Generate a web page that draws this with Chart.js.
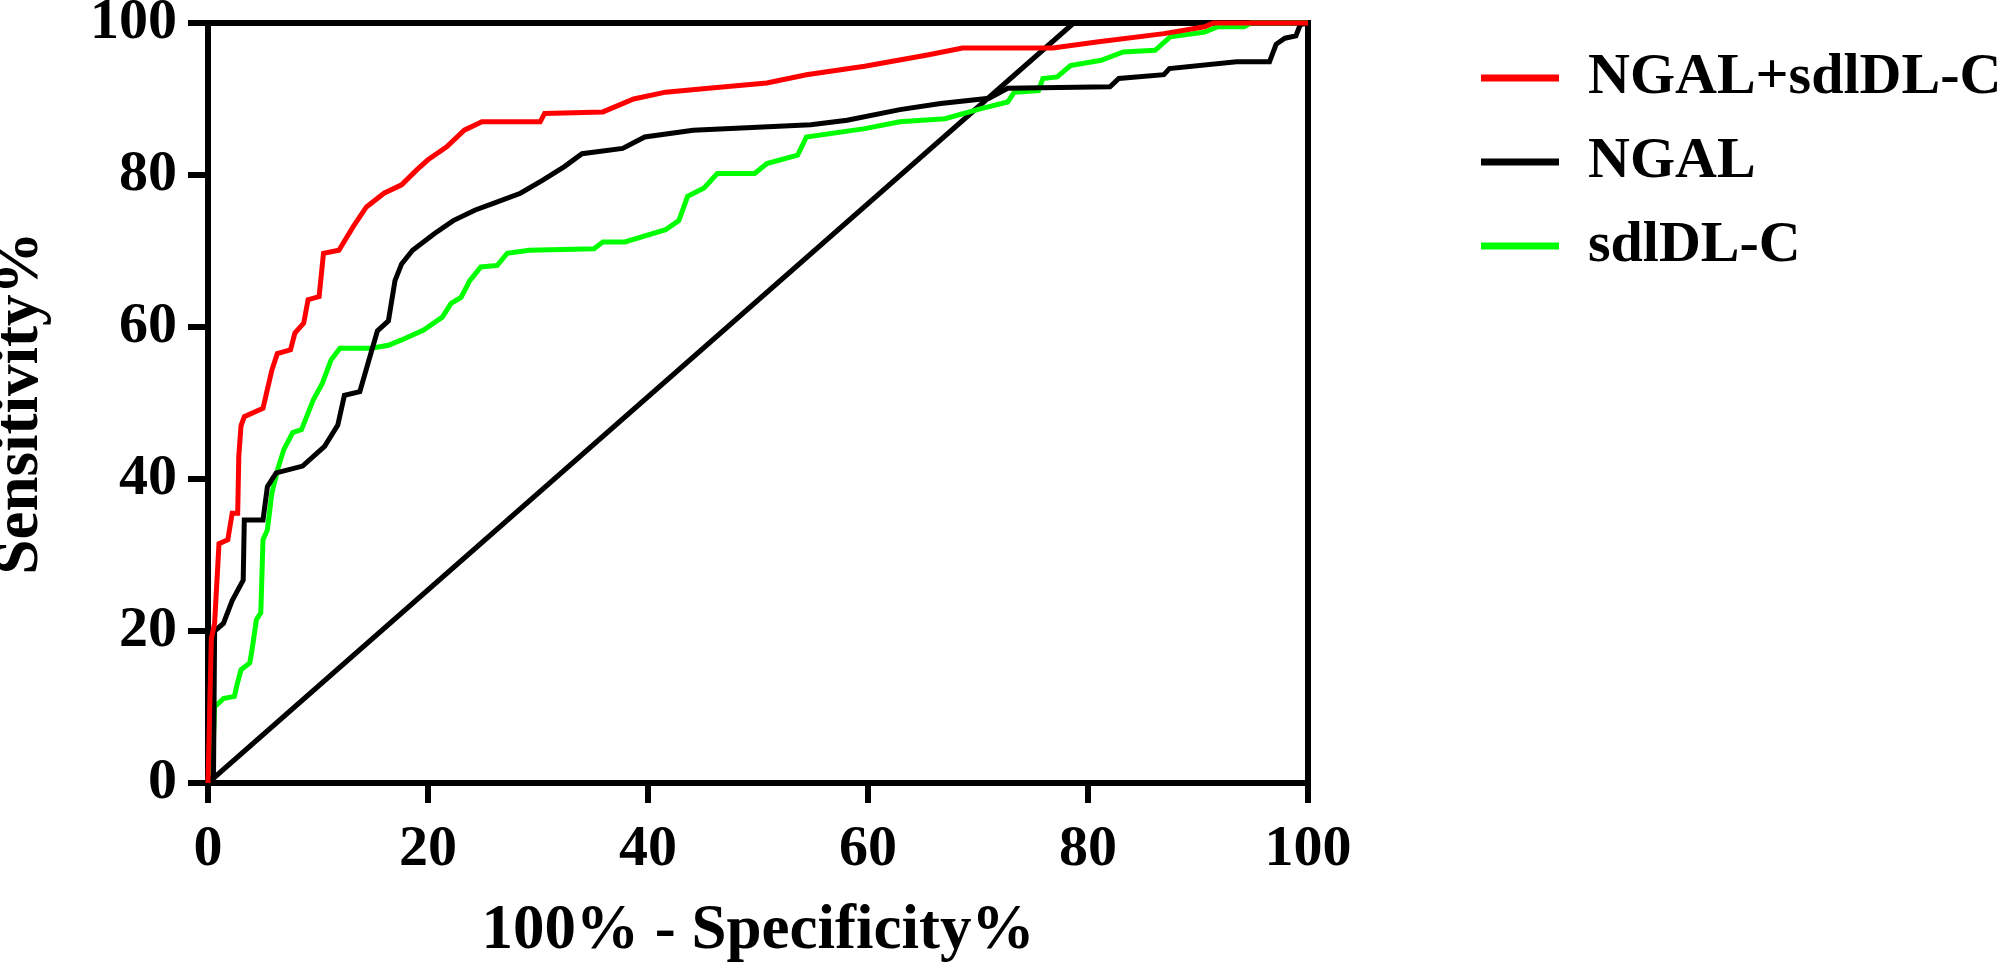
<!DOCTYPE html>
<html>
<head>
<meta charset="utf-8">
<title>Courbes ROC</title>
<script src="https://cdn.jsdelivr.net/npm/chart.js@4.4.1/dist/chart.umd.min.js"></script>
<style>
  html, body { margin: 0; padding: 0; background: #fff; }
  canvas { display: block; }
</style>
</head>
<body>
<canvas id="rocChart" width="2008" height="968"></canvas>
<script>
// valeurs : x = 100% - specificite, y = sensibilite
const comboX = [0, 0.3, 0.6, 1.0, 1.8, 2.2, 2.7, 2.8, 3.0, 3.3, 5.0, 5.8, 6.3, 7.5, 7.9, 8.7, 9.1, 10.1, 10.5, 11.9,
  13.2, 14.4, 16.0, 17.6, 19.0, 20.0, 21.7, 23.3, 24.9, 30.2, 30.6, 35.9, 38.7, 41.6, 45.5, 50.8, 54.4, 59.7,
  65.4, 68.6, 76.8, 80.8, 86.9, 90.6, 91.4, 100];
const comboY = [0, 19, 21, 31.5, 32, 35.5, 35.5, 43, 47, 48.2, 49.3, 54.3, 56.5, 57, 59.2, 60.5, 63.6, 64, 69.7, 70.1,
  73.2, 75.8, 77.6, 78.7, 80.7, 82, 83.7, 85.9, 87, 87, 88.1, 88.3, 90, 90.9, 91.4, 92.1, 93.2, 94.3,
  95.8, 96.7, 96.7, 97.5, 98.6, 99.5, 100, 100];

const ngalX = [0, 0.5, 0.6, 1.4, 2.2, 3.2, 3.3, 5.0, 5.4, 6.2, 8.6, 10.6, 11.8, 12.4, 13.8, 14.6, 15.4, 16.4, 17.0,
  17.6, 18.6, 20.6, 22.3, 24.3, 26.0, 28.4, 30.4, 32.4, 34.0, 37.7, 39.7, 44.1, 54.8, 58.1, 62.9, 66.6, 71.0,
  72.7, 82.0, 82.8, 86.9, 87.4, 93.5, 96.5, 97.1, 97.9, 98.9, 99.3, 100];
const ngalY = [0, 1, 20, 21, 24, 26.7, 34.6, 34.6, 39, 40.8, 41.7, 44.3, 47.1, 51, 51.5, 55.5, 59.5, 60.8, 66.1,
  68.3, 70.1, 72.3, 74, 75.4, 76.3, 77.6, 79.3, 81.1, 82.8, 83.5, 85, 85.9, 86.6, 87.2, 88.6, 89.4, 90.1,
  91.4, 91.6, 92.7, 93.2, 94, 94.9, 94.9, 97.2, 98, 98.3, 99.8, 100];

const sdlX = [0, 0.4, 0.6, 1.4, 2.4, 2.6, 3.0, 3.8, 4.0, 4.4, 4.8, 5.0, 5.4, 5.8, 6.4, 6.9, 7.7, 8.5, 9.6, 10.4,
  11.2, 12.0, 14.8, 16.4, 17.6, 19.6, 21.3, 22.1, 23.0, 23.8, 24.8, 26.3, 27.2, 29.2, 35.1, 35.9, 37.9, 41.6,
  42.8, 43.6, 45.1, 46.3, 49.7, 50.8, 53.6, 54.4, 59.7, 62.9, 67.0, 70.2, 72.7, 73.3, 75.5, 75.9, 77.2, 78.4,
  81.2, 83.2, 86.1, 87.5, 90.6, 91.8, 94.2, 94.8, 100];
const sdlY = [0, 2, 10, 11.1, 11.4, 12.7, 14.9, 15.8, 17.5, 21.5, 22.4, 32, 33.3, 38.1, 41.6, 43.9, 46.1, 46.5, 50.5, 52.6,
  55.7, 57.2, 57.2, 57.6, 58.3, 59.6, 61.3, 63.1, 63.9, 66.1, 67.9, 68.1, 69.7, 70.1, 70.3, 71.2, 71.2, 72.8,
  74.0, 77.2, 78.3, 80.2, 80.2, 81.5, 82.6, 85, 86.1, 87, 87.4, 88.7, 89.6, 90.9, 91.1, 92.7, 92.9, 94.4,
  95.1, 96.2, 96.4, 98.2, 98.8, 99.5, 99.5, 100, 100];

// ligne de reference (telle qu'elle apparait sur la figure)
const refX = [0, 78.7];
const refY = [0, 100];

const tickValues = [0, 20, 40, 60, 80, 100];
const seriesNames = ["NGAL+sdlDL-C", "NGAL", "sdlDL-C"];
const seriesColors = ["#ff0000", "#000000", "#00ff00"];

const serif = "'Liberation Serif', 'Times New Roman', serif";

function toPoints(xs, ys) {
  return xs.map((x, i) => ({ x: x, y: ys[i] }));
}

function setTicks(scale) {
  scale.ticks = tickValues.map(v => ({ value: v }));
}

// pas de marge auto autour de la zone de trace
function noPadding(scale) {
  scale.paddingTop = 0;
  scale.paddingBottom = 0;
  scale.paddingLeft = 0;
  scale.paddingRight = 0;
}

const curve = (label, xs, ys, color) => ({
  label: label,
  data: toPoints(xs, ys),
  borderColor: color,
  backgroundColor: color,
  borderWidth: 5,
  pointRadius: 0,
  tension: 0,
  fill: false,
  clip: false
});

const datasets = [
  curve(seriesNames[0], comboX, comboY, seriesColors[0]),
  curve(seriesNames[1], ngalX, ngalY, seriesColors[1]),
  curve(seriesNames[2], sdlX, sdlY, seriesColors[2]),
  Object.assign(curve("ref", refX, refY, "#000000"), { hideInLegend: true })
];

const ctx = document.getElementById("rocChart");

new Chart(ctx, {
  type: "line",
  data: { datasets: datasets },
  options: {
    responsive: false,
    animation: false,
    devicePixelRatio: 1,
    layout: { padding: { top: 23, right: 0, bottom: 0, left: 0 } },
    plugins: {
      tooltip: { enabled: false },
      legend: {
        position: "right",
        align: "start",
        maxWidth: 553,
        labels: {
          boxWidth: 78,
          boxHeight: 7,
          padding: 26,
          color: "#000",
          font: { family: serif, size: 58, weight: "bold" },
          filter: (item, data) => !data.datasets[item.datasetIndex].hideInLegend,
          generateLabels: (chart) =>
            Chart.defaults.plugins.legend.labels.generateLabels(chart).map(l =>
              Object.assign(l, { fillStyle: l.strokeStyle, lineWidth: 0 }))
        }
      }
    },
    scales: {
      x: {
        type: "linear",
        position: "bottom",
        min: 0,
        max: 100,
        afterBuildTicks: setTicks,
        afterFit: (scale) => { scale.height = 185; noPadding(scale); },
        border: { display: true, color: "#000", width: 6 },
        grid: { display: true, drawOnChartArea: false, drawTicks: true, tickLength: 20, color: "#000", lineWidth: 6 },
        ticks: { color: "#000", padding: 12, maxRotation: 0, font: { family: serif, size: 58, weight: "bold" } },
        title: {
          display: true,
          text: "100% - Specificity%",
          color: "#000",
          padding: { top: 0, bottom: 5 },
          font: { family: serif, size: 63, weight: "bold", lineHeight: 1 }
        }
      },
      y: {
        type: "linear",
        position: "left",
        min: 0,
        max: 100,
        afterBuildTicks: setTicks,
        afterFit: (scale) => { scale.width = 208; noPadding(scale); },
        border: { display: true, color: "#000", width: 6 },
        grid: { display: true, drawOnChartArea: false, drawTicks: true, tickLength: 20, color: "#000", lineWidth: 6 },
        ticks: { color: "#000", padding: 11, font: { family: serif, size: 58, weight: "bold" } },
        title: {
          display: true,
          text: "Sensitivity%",
          color: "#000",
          padding: 0,
          font: { family: serif, size: 63, weight: "bold", lineHeight: 0.67 }
        }
      },
      // cadre du haut et de droite
      xTop: {
        type: "linear",
        axis: "x",
        position: "top",
        min: 0,
        max: 100,
        afterFit: (scale) => { scale.height = 0; noPadding(scale); },
        border: { display: true, color: "#000", width: 6 },
        grid: { display: false },
        ticks: { display: false }
      },
      yRight: {
        type: "linear",
        axis: "y",
        position: "right",
        min: 0,
        max: 100,
        afterFit: (scale) => { scale.width = 147; noPadding(scale); },
        border: { display: true, color: "#000", width: 6 },
        grid: { display: false },
        ticks: { display: false }
      }
    }
  }
});
</script>
</body>
</html>
